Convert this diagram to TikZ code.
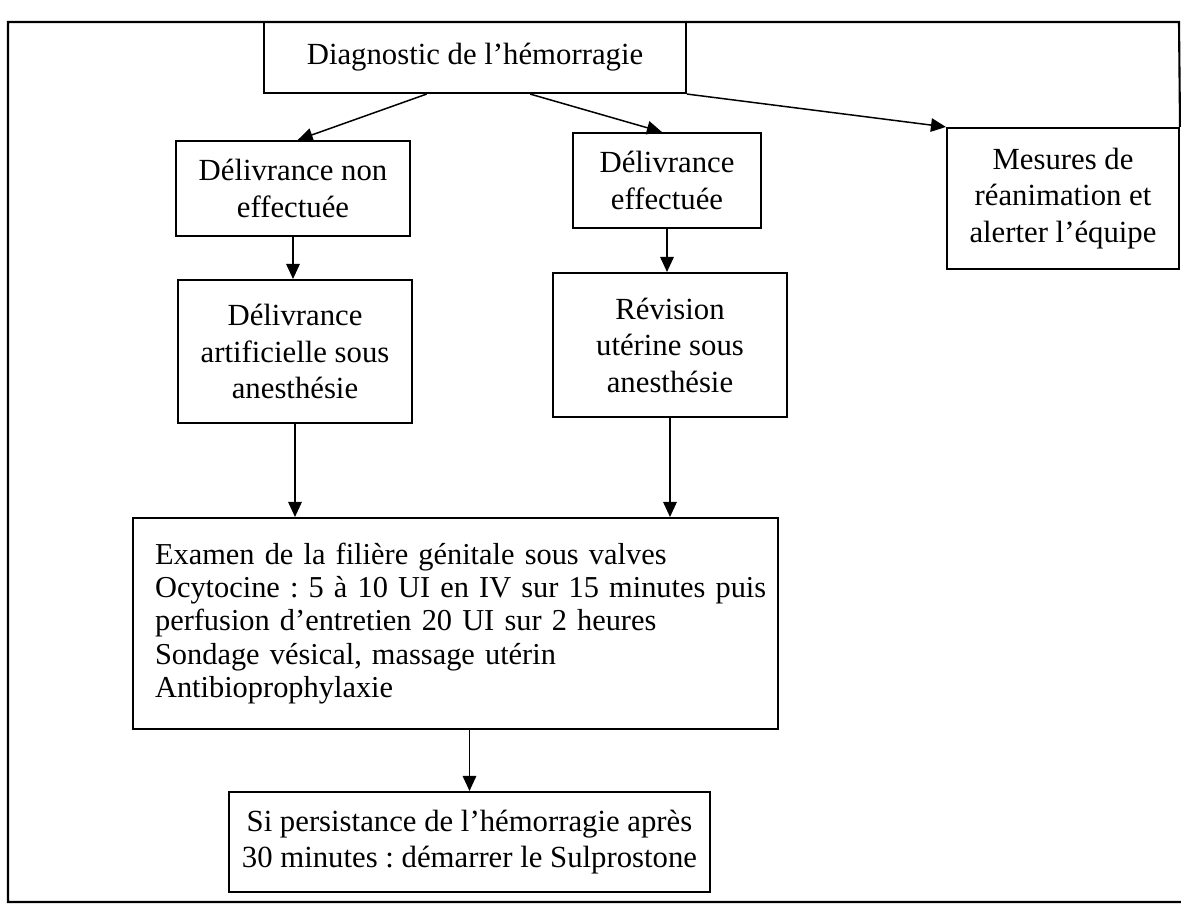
\documentclass[tikz,border=0pt]{standalone}
\usepackage{fontspec}
\setmainfont{Liberation Serif}
\usetikzlibrary{arrows.meta,calc}
\frenchspacing
\begin{document}
\begin{tikzpicture}[x=0.02cm,y=-0.02cm,
  box/.style={draw,line width=1.2pt,rectangle,inner sep=0pt,align=center,
    font=\fontsize{17.5}{20.8}\selectfont\frenchspacing},
  arr/.style={line width=0.85pt,-{Triangle[length=0.3cm,width=0.27cm]}},
  frameline/.style={line width=1.2pt}]
\useasboundingbox (0,0) rectangle (1181,914);
% frame corners
\coordinate (ftl) at (8,22);
\coordinate (ftr) at (1179,22);
\coordinate (fbl) at (8,902);
\coordinate (fbr) at (1181,902);
% boxes
\node[box,minimum width=8.44cm,minimum height=1.42cm] (diag) at (475,57.5) {Diagnostic de l’hémorragie};
\node[box,minimum width=4.68cm,minimum height=1.9cm] (dne) at (293,188.5) {Délivrance non\\effectuée};
\node[box,minimum width=3.76cm,minimum height=1.9cm] (de) at (667,180.5) {Délivrance\\effectuée};
\node[box,minimum width=4.64cm,minimum height=2.82cm] (mes) at (1063,198.5) {Mesures de\\réanimation et\\alerter l’équipe};
\node[box,minimum width=4.68cm,minimum height=2.86cm] (das) at (295,351.5) {Délivrance\\artificielle sous\\anesthésie};
\node[box,minimum width=4.68cm,minimum height=2.88cm] (rev) at (670,345) {Révision\\utérine sous\\anesthésie};
\node[box,minimum width=12.9cm,minimum height=4.22cm,inner xsep=0.44cm,align=left,text width=12.02cm,
  font=\fontsize{17.3}{19}\selectfont\frenchspacing] (exa) at (455.5,623.5)
  {\mbox{Examen de la filière génitale sous valves}\\\mbox{Ocytocine : 5 à 10 UI en IV sur 15 minutes puis}\\\mbox{perfusion d’entretien 20 UI sur 2 heures}\\\mbox{Sondage vésical, massage utérin}\\\mbox{Antibioprophylaxie}\\[-4pt]};
\node[box,minimum width=9.62cm,minimum height=2.0cm] (sul) at (469.5,842) {Si persistance de l’hémorragie après\\30 minutes : démarrer le Sulprostone};
% frame
\draw[frameline] (mes.north east) -- (ftr) -- (ftl) -- (fbl) -- (fbr);
% connectors
\draw[arr] ($(diag.south west)!0.386!(diag.south east)$) -- ($(dne.north west)!0.52!(dne.north east)$);
\draw[arr] ($(diag.south west)!0.630!(diag.south east)$) -- ($(de.north west)!0.473!(de.north east)$);
\draw[arr] (diag.south east) -- (mes.north west);
\draw[arr] (dne.south) -- (dne.south |- das.north);
\draw[arr] (de.south) -- (de.south |- rev.north);
\draw[arr] (das.south) -- (das.south |- exa.north);
\draw[arr] (rev.south) -- (rev.south |- exa.north);
\draw[arr] (sul.north |- exa.south) -- (sul.north);
\end{tikzpicture}
\end{document}
